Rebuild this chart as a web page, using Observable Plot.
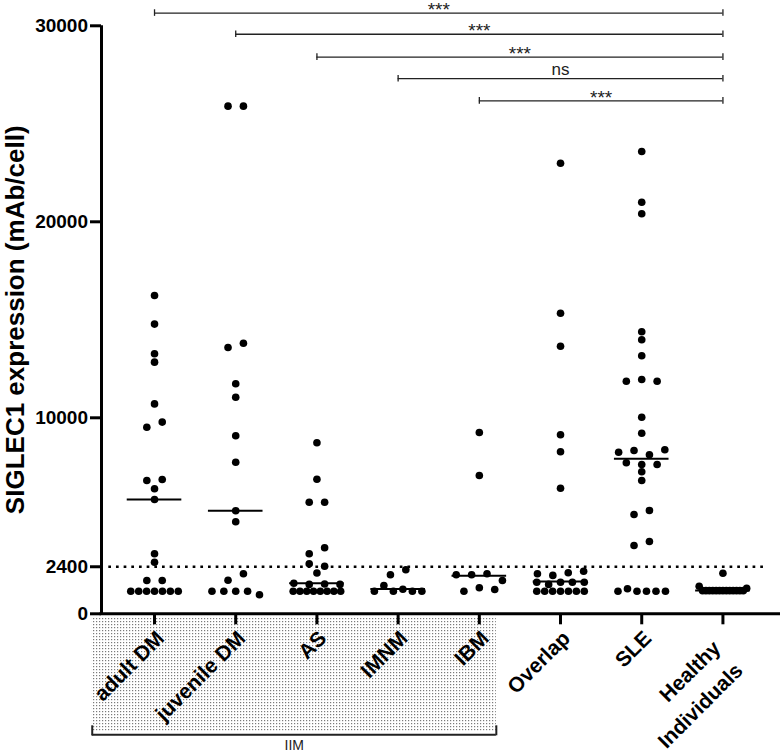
<!DOCTYPE html>
<html><head><meta charset="utf-8">
<script src="https://cdn.jsdelivr.net/npm/d3@7"></script>
<script src="https://cdn.jsdelivr.net/npm/@observablehq/plot@0.6"></script>
<style>body{margin:0;background:#fff} svg{display:block}</style>
</head><body><div id="chart"></div>
<script>
// ---------- data ----------
const categories = ["adult DM", "juvenile DM", "AS", "IMNM", "IBM", "Overlap", "SLE", "Healthy Individuals"];
const xTickLabels = ["adult DM", "juvenile DM", "AS", "IMNM", "IBM", "Overlap", "SLE", "Healthy\nIndividuals"];

const adultDM = [16240, 14780, 13270, 12840, 10710, 9520, 9780, 6800, 6850, 6380, 5830, 3060, 2630, 1700, 1700,
  1150, 1150, 1150, 1150, 1150, 1150, 1150];
const juvenileDM = [25900, 25900, 13587, 13806, 11735, 11051, 9082, 7735, 5255, 4694, 1714, 2041,
  1153, 1153, 1153, 1153, 969];
const asValues = [8724, 6868, 5694, 5694, 3061, 3367, 2551, 2429, 2080, 1561, 1500, 1520, 1500,
  1153, 1153, 1153, 1153, 1153, 1153, 1153, 1153];
const imnmValues = [1990, 2245, 1153, 1444, 1153, 1250, 1153, 1153];
const ibmValues = [9250, 7056, 1990, 1990, 2041, 1699, 1153, 1327, 1240];
const overlapValues = [22990, 15337, 13653, 9133, 8265, 6408, 2041, 1960, 2092, 2173,
  1612, 1500, 1612, 1612, 1612, 1153, 1153, 1153, 1153, 1153, 1153, 1153];
const sleValues = [23587, 21000, 20408, 14388, 13980, 13163, 11867, 11954, 11867, 10031, 9214,
  8245, 8332, 8112, 8367, 7704, 7617, 7617, 7250, 6801, 5066, 5270, 3485, 3689,
  1153, 1275, 1153, 1153, 1153, 1153];
const healthyValues = [2071, 1408, 1180, 1180, 1180, 1180, 1180, 1180, 1180, 1180, 1180, 1180, 1180, 1180, 1180, 1306];
const seriesValues = [adultDM, juvenileDM, asValues, imnmValues, ibmValues, overlapValues, sleValues, healthyValues];

const medians = [5830, 5255, 1561, 1260, 1940, 1648, 7908, 1190];

const yTicks = [0, 2400, 10000, 20000, 30000];
const threshold = 2400;

const compFrom = ["adult DM", "juvenile DM", "AS", "IMNM", "IBM"];
const compTo = "Healthy Individuals";
const compLabels = ["***", "***", "***", "ns", "***"];
const compLevels = [30650, 29570, 28400, 27300, 26170];

const groupLabel = "IIM";
const groupMembers = ["adult DM", "juvenile DM", "AS", "IMNM", "IBM"];

const yTitle = "SIGLEC1 expression (mAb/cell)";

// ---------- layout ----------
const W = 780, H = 753;
const mL = 101, mR = 0, mT = 25.3, mB = 139.7;
const xDomain = [-0.653, 7.709];
const yDomain = [0, 30000];
const pxPerX = (W - mL - mR) / (xDomain[1] - xDomain[0]);
const pxPerY = (H - mT - mB) / (yDomain[1] - yDomain[0]);
const below = px => -px / pxPerY; // pixels below the x axis, in y units
const idx = c => categories.indexOf(c);

// scatter layout (GraphPad-like rows)
const gapPx = 6.6, maxStepPx = 15.4, maxSpanPx = 47.5;
function layout(values, ci) {
  const items = values.map((v, i) => ({v, i}));
  const sorted = items.slice().sort((a, b) => a.v - b.v || a.i - b.i);
  const clusters = [];
  let cur = null, prev = null;
  for (const it of sorted) {
    if (cur && (it.v - prev) * pxPerY < gapPx) cur.push(it);
    else { cur = [it]; clusters.push(cur); }
    prev = it.v;
  }
  const out = [];
  for (const c of clusters) {
    c.sort((a, b) => a.i - b.i);
    const n = c.length;
    const sp = n > 1 ? Math.min(maxStepPx, maxSpanPx / (n - 1)) : 0;
    c.forEach((it, k) => out.push({cat: categories[ci], value: it.v, x: ci + (k - (n - 1) / 2) * sp / pxPerX}));
  }
  return out;
}
const dots = seriesValues.flatMap((vals, ci) => layout(vals, ci));
const medianData = medians.map((m, i) => ({i, m}));
const medianHalf = 27.3 / pxPerX;

const comps = compFrom.map((f, k) => ({from: idx(f), to: idx(compTo), label: compLabels[k], level: compLevels[k]}));
const compEnds = comps.flatMap(c => [{x: c.from, level: c.level}, {x: c.to, level: c.level}]);
const capY = 3.3 / pxPerY;

const g0 = idx(groupMembers[0]), g1 = idx(groupMembers[groupMembers.length - 1]);
const groupBox = [{x1: g0 - 62.3 / pxPerX, x2: g1 + 17 / pxPerX}];

const tickLabelData = xTickLabels.map((t, i) => ({t, i}));
const singleLine = tickLabelData.filter(d => !d.t.includes("\n"));
const multiLine = tickLabelData.filter(d => d.t.includes("\n"));

const font = "'Liberation Sans', Arial, Helvetica, sans-serif";
const labelStyle = {x: "i", frameAnchor: "bottom", text: "t", rotate: -45, textAnchor: "end", lineAnchor: "top",
  fontSize: 21, fontWeight: "bold", lineHeight: 1.5};

const chart = Plot.plot({
  width: W, height: H,
  marginLeft: mL, marginRight: mR, marginTop: mT, marginBottom: mB,
  x: {type: "linear", domain: xDomain, axis: null},
  y: {type: "linear", domain: yDomain, axis: null},
  style: {fontFamily: font, color: "black", background: "white"},
  marks: [
    // IIM shaded group box + bracket + label
    Plot.rect(groupBox, {x1: "x1", x2: "x2", y1: below(3.5), y2: below(117.5), fill: "#e6e6e6"}),
    Plot.ruleY(groupBox, {x1: "x1", x2: "x2", y: below(121), stroke: "#222", strokeWidth: 2}),
    Plot.ruleX(groupBox.flatMap(d => [d.x1, d.x2]), {x: d => d, y1: below(112), y2: below(122), stroke: "#222", strokeWidth: 2}),
    Plot.text([groupLabel], {x: (g0 + g1) / 2 + (17 - 62.3) / 2 / pxPerX, y: below(132), text: d => d, fontSize: 14, lineAnchor: "middle", fill: "#222"}),

    // threshold dotted line
    Plot.ruleY([threshold], {stroke: "black", strokeWidth: 2.7, strokeDasharray: "2.7 4.97", insetLeft: 7.3, insetRight: 15}),

    // axes
    Plot.ruleY([0], {stroke: "black", strokeWidth: 3, insetLeft: -1.5}),
    Plot.ruleX([xDomain[0]], {y1: 0, y2: yDomain[1], stroke: "black", strokeWidth: 3}),
    Plot.ruleY(yTicks, {y: d => d, x1: xDomain[0] - 11 / pxPerX, x2: xDomain[0], stroke: "black", strokeWidth: 3}),
    Plot.text(yTicks, {y: d => d, x: xDomain[0], dx: -13.5, text: d => String(d), textAnchor: "end", fontSize: 19, fontWeight: "bold", lineAnchor: "middle"}),
    Plot.ruleX(categories, {x: (d, i) => i, y1: 0, y2: below(11), stroke: "black", strokeWidth: 3}),
    Plot.text(singleLine, {...labelStyle, dx: -5, dy: 10}),
    Plot.text(multiLine, {...labelStyle, dx: -17, dy: 20}),
    Plot.text([yTitle], {frameAnchor: "left", text: d => d, dx: -86, rotate: -90, textAnchor: "middle", fontSize: 26, fontWeight: "bold", lineAnchor: "middle"}),

    // data
    Plot.dot(dots, {x: "x", y: "value", r: 3.8, fill: "black", stroke: "none"}),
    Plot.ruleY(medianData, {y: "m", x1: d => d.i - medianHalf, x2: d => d.i + medianHalf, stroke: "black", strokeWidth: 2}),

    // significance brackets
    Plot.ruleY(comps, {y: "level", x1: "from", x2: "to", stroke: "#222", strokeWidth: 1.3}),
    Plot.ruleX(compEnds, {x: "x", y1: d => d.level - capY, y2: d => d.level + capY, stroke: "#222", strokeWidth: 1.3}),
    Plot.text(comps.filter(c => c.label !== "ns"), {x: d => (d.from + d.to) / 2, y: "level", text: "label", fontSize: 19, lineAnchor: "bottom", dy: 3, fill: "#222"}),
    Plot.text(comps.filter(c => c.label === "ns"), {x: d => (d.from + d.to) / 2, y: "level", text: "label", fontSize: 17, lineAnchor: "bottom", dy: -4, fill: "#222"})
  ]
});

// stippled fill for the IIM group box
const svg = d3.select(chart);
const defs = svg.insert("defs", ":first-child");
const pat = defs.append("pattern").attr("id", "stipple").attr("width", 3).attr("height", 3).attr("patternUnits", "userSpaceOnUse");
pat.append("rect").attr("width", 3).attr("height", 3).attr("fill", "#fff");
pat.append("rect").attr("width", 1.2).attr("height", 1.2).attr("fill", "#7a7a7a");
svg.selectAll('g[aria-label="rect"] rect').attr("fill", "url(#stipple)");

document.getElementById("chart").appendChild(chart);
</script>
</body></html>
